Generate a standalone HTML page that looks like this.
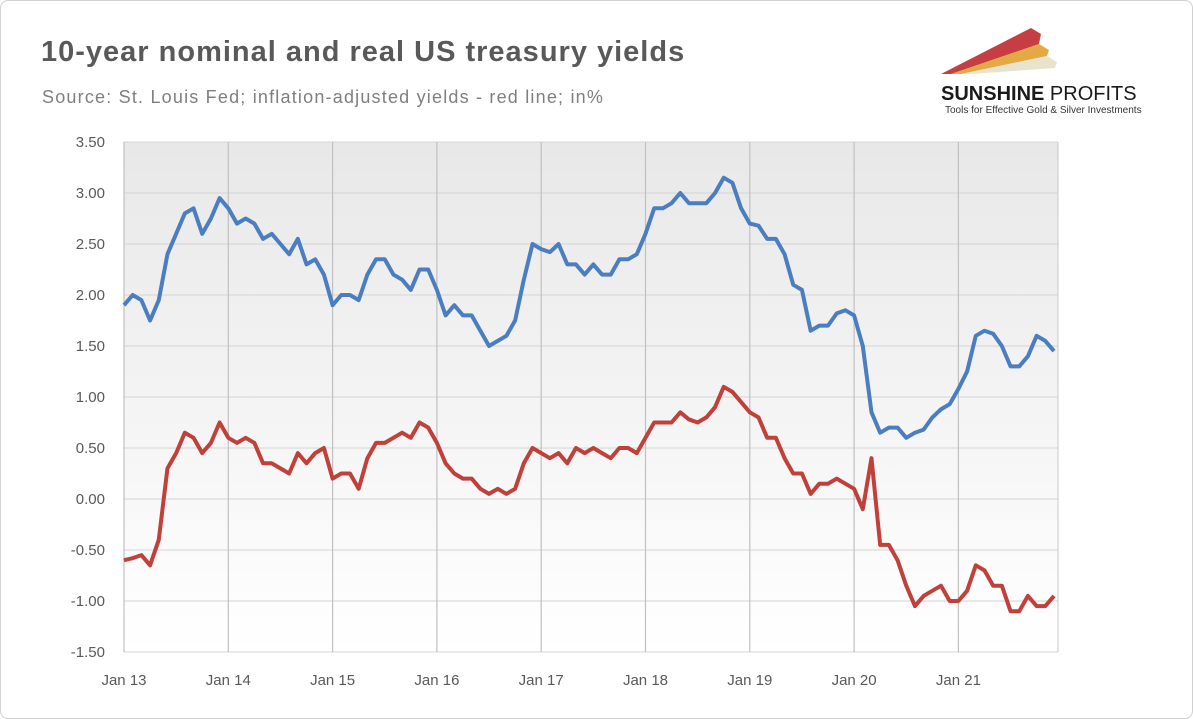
<!DOCTYPE html>
<html><head><meta charset="utf-8">
<style>
body{margin:0;background:#fff;font-family:"Liberation Sans",sans-serif;}
#wrap{position:relative;width:1191px;height:717px;border:1px solid #d0d0d0;border-radius:8px;overflow:hidden;}
#title{position:absolute;left:40px;top:35px;font-size:29px;font-weight:bold;color:#595959;letter-spacing:1px;}
#sub{position:absolute;left:41px;top:86px;font-size:18px;color:#7f7f7f;letter-spacing:1.2px;}
</style></head><body>
<div id="wrap">
<div id="title">10-year nominal and real US treasury yields</div>
<div id="sub">Source: St. Louis Fed; inflation-adjusted yields - red line; in%</div>
<svg style="position:absolute;left:930px;top:15px" width="250" height="105">
<polygon points="10,58 100,12 110,18 108,28 20,58" fill="#c0282d" opacity="0.9"/>
<polygon points="20,58 108,28 118,34 116,40 30,58" fill="#e0a030" opacity="0.9"/>
<polygon points="30,58 116,40 126,46 124,52 40,58" fill="#e6e0c8" opacity="0.9"/>
<text x="10" y="84" font-size="20" font-weight="bold" fill="#1a1a1a" font-family="Liberation Sans,sans-serif">SUNSHINE <tspan font-weight="normal">PROFITS</tspan></text>
<text x="14" y="97" font-size="10" fill="#333" font-family="Liberation Sans,sans-serif">Tools for Effective Gold &amp; Silver Investments</text>
</svg>
<svg id="chart" style="position:absolute;left:0;top:0" width="1193" height="719">
<defs><linearGradient id="bg" x1="0" y1="0" x2="0" y2="1"><stop offset="0" stop-color="#e8e8e8"/><stop offset="1" stop-color="#ffffff"/></linearGradient></defs>
<g id="g"></g>
</svg>
</div>
<script>
const years=["Jan 13","Jan 14","Jan 15","Jan 16","Jan 17","Jan 18","Jan 19","Jan 20","Jan 21"];
const yTicks=[3.5,3,2.5,2,1.5,1,0.5,0,-0.5,-1,-1.5];
const nominal=[1.9,2.0,1.95,1.75,1.95,2.4,2.6,2.8,2.85,2.6,2.75,2.95,
2.85,2.7,2.75,2.7,2.55,2.6,2.5,2.4,2.55,2.3,2.35,2.2,
1.9,2.0,2.0,1.95,2.2,2.35,2.35,2.2,2.15,2.05,2.25,2.25,
2.05,1.8,1.9,1.8,1.8,1.65,1.5,1.55,1.6,1.75,2.15,2.5,
2.45,2.42,2.5,2.3,2.3,2.2,2.3,2.2,2.2,2.35,2.35,2.4,
2.6,2.85,2.85,2.9,3.0,2.9,2.9,2.9,3.0,3.15,3.1,2.85,
2.7,2.68,2.55,2.55,2.4,2.1,2.05,1.65,1.7,1.7,1.82,1.85,
1.8,1.5,0.85,0.65,0.7,0.7,0.6,0.65,0.68,0.8,0.88,0.93,
1.08,1.25,1.6,1.65,1.62,1.5,1.3,1.3,1.4,1.6,1.55,1.45];
const real=[-0.6,-0.58,-0.55,-0.65,-0.4,0.3,0.45,0.65,0.6,0.45,0.55,0.75,
0.6,0.55,0.6,0.55,0.35,0.35,0.3,0.25,0.45,0.35,0.45,0.5,
0.2,0.25,0.25,0.1,0.4,0.55,0.55,0.6,0.65,0.6,0.75,0.7,
0.55,0.35,0.25,0.2,0.2,0.1,0.05,0.1,0.05,0.1,0.35,0.5,
0.45,0.4,0.45,0.35,0.5,0.45,0.5,0.45,0.4,0.5,0.5,0.45,
0.6,0.75,0.75,0.75,0.85,0.78,0.75,0.8,0.9,1.1,1.05,0.95,
0.85,0.8,0.6,0.6,0.4,0.25,0.25,0.05,0.15,0.15,0.2,0.15,
0.1,-0.1,0.4,-0.45,-0.45,-0.6,-0.85,-1.05,-0.95,-0.9,-0.85,-1.0,
-1.0,-0.9,-0.65,-0.7,-0.85,-0.85,-1.1,-1.1,-0.95,-1.05,-1.05,-0.95];
const X0=123,X1=1057,Y0=141,Y1=651;
const x=m=>X0+m*104.3/12;
const y=v=>Y0+(3.5-v)*(Y1-Y0)/5;
const NS="http://www.w3.org/2000/svg",g=document.getElementById("g");
function mk(t,a){const e=document.createElementNS(NS,t);for(const k in a)e.setAttribute(k,a[k]);g.appendChild(e);return e;}
const bg=mk("rect",{x:X0,y:Y0,width:X1-X0,height:Y1-Y0,fill:"url(#bg)"});


yTicks.forEach(v=>{
 const l=mk("line",{x1:X0,x2:X1,y1:y(v),y2:y(v),stroke:"#d4d4d4","stroke-width":1});
 
 
 const t=mk("text",{x:104,y:y(v)+5,"text-anchor":"end","font-size":15,fill:"#595959"});
 t.textContent=v.toFixed(2);
 
 
});
years.forEach((s,i)=>{
 const xx=x(i*12);
 const l=mk("line",{x1:xx,x2:xx,y1:Y0,y2:Y1,stroke:"#c0c0c0","stroke-width":1.2});
 
 
 const t=mk("text",{x:xx,y:684,"text-anchor":"middle","font-size":15,fill:"#595959"});
 t.textContent=s;
 
 
});
const r=mk("line",{x1:X1,x2:X1,y1:Y0,y2:Y1,stroke:"#c8c8c8"});


function series(d,c,n){
 const p=mk("polyline",{points:d.map((v,i)=>x(i)+","+y(v)).join(" "),fill:"none",stroke:c,"stroke-width":4,"stroke-linejoin":"round"});
 
 
}
series(nominal,"#4a7ec0","nominal-yield-line");
series(real,"#c0403a","real-yield-line");
</script>
</body></html>
